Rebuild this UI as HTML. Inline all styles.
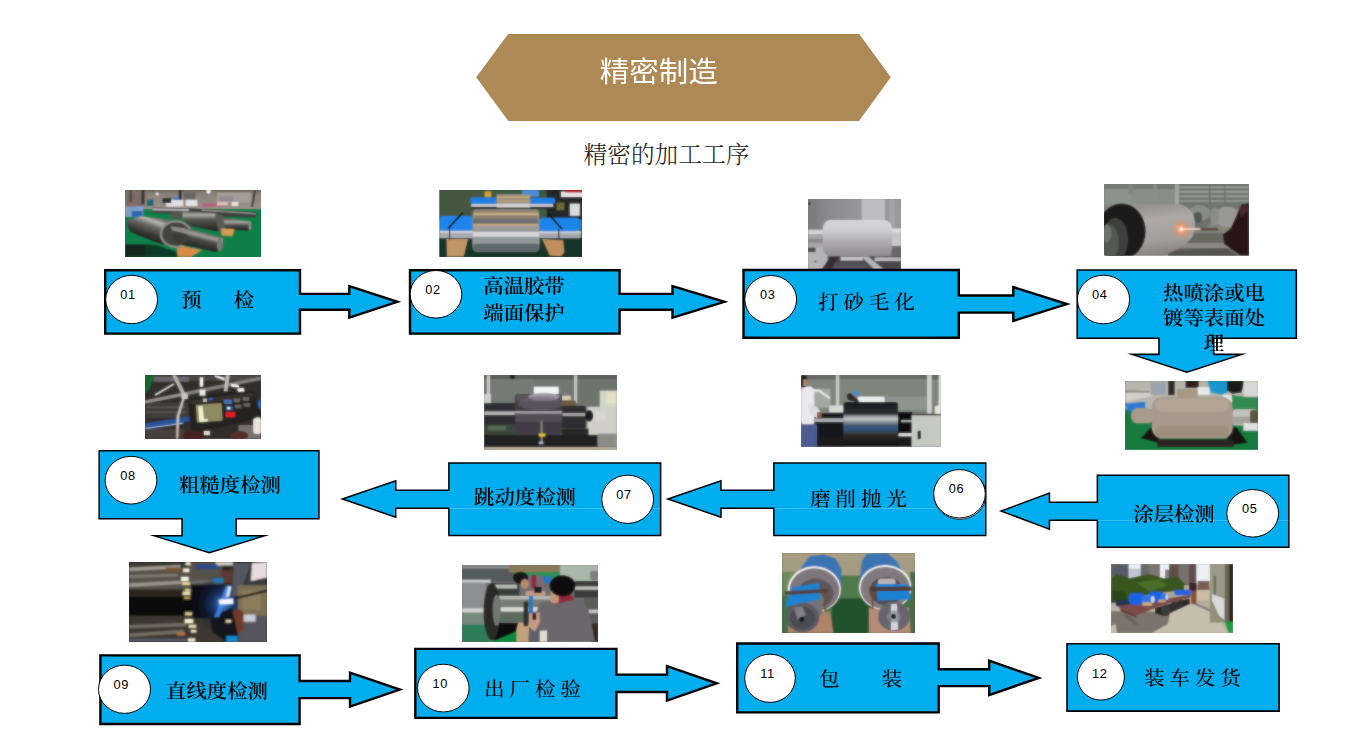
<!DOCTYPE html>
<html lang="zh-CN">
<head>
<meta charset="utf-8">
<title>精密制造 - 精密的加工工序</title>
<style>
*{margin:0;padding:0;box-sizing:border-box}
html,body{width:1356px;height:752px;background:#fff;overflow:hidden}
body{font-family:"Liberation Sans","Noto Sans CJK SC",sans-serif;color:#000}
#page{position:relative;width:1356px;height:752px;background:#fff;overflow:hidden}
.hex{position:absolute;left:476.2px;top:33.5px;width:414.6px;height:87.7px;background:#AD8956;
 clip-path:polygon(0 50%,7.8% 0,92.3% 0,100% 50%,92.3% 100%,7.8% 100%)}
h1{position:absolute;height:42px;line-height:42px;font-size:29.5px;font-weight:400;transform:scaleY(.945);transform-origin:50% 50%;
 color:#fff;white-space:nowrap;font-family:"Liberation Sans","Noto Sans CJK SC",sans-serif}
h2{position:absolute;height:30px;line-height:30px;font-size:23.7px;font-weight:300;
 color:#1c1c1c;white-space:nowrap;font-family:"Liberation Serif","Noto Serif CJK SC",serif}
#flow{position:absolute;left:0;top:0;width:1356px;height:752px}
.lb{position:absolute;white-space:nowrap;font-family:"Liberation Serif","Noto Serif CJK SC",serif;font-weight:600;
 font-size:20px;line-height:24px;color:#000;transform:scale(1.018,.955);transform-origin:50% 50%}
.no{position:absolute;white-space:nowrap;font-family:"Liberation Sans","Noto Sans CJK SC",sans-serif;
 font-size:12.8px;line-height:16px;letter-spacing:.6px;color:#000}
.g{display:inline-block}
</style>
</head>
<body>
<div id="page">
<div class="hex"></div>
<h1 id="T1" style="left:599.75px;top:51.75px">精密制造</h1>
<h2 id="T2" style="left:583.5px;top:139.75px">精密的加工工序</h2>
<svg id="flow" width="1356" height="752" viewBox="0 0 1356 752">
<defs>
<filter id="b1" x="-5%" y="-5%" width="110%" height="110%"><feGaussianBlur stdDeviation="10"/></filter>
<filter id="b2" x="-5%" y="-5%" width="110%" height="110%"><feGaussianBlur stdDeviation="10"/></filter>
<filter id="b3" x="-5%" y="-5%" width="110%" height="110%"><feGaussianBlur stdDeviation="10"/></filter>
<filter id="b4" x="-5%" y="-5%" width="110%" height="110%"><feGaussianBlur stdDeviation="10"/></filter>
<filter id="b5" x="-5%" y="-5%" width="110%" height="110%"><feGaussianBlur stdDeviation="10"/></filter>
<filter id="b6" x="-5%" y="-5%" width="110%" height="110%"><feGaussianBlur stdDeviation="10"/></filter>
<filter id="b7" x="-5%" y="-5%" width="110%" height="110%"><feGaussianBlur stdDeviation="10"/></filter>
<filter id="b8" x="-5%" y="-5%" width="110%" height="110%"><feGaussianBlur stdDeviation="10"/></filter>
<filter id="b9" x="-5%" y="-5%" width="110%" height="110%"><feGaussianBlur stdDeviation="10"/></filter>
<filter id="b10" x="-5%" y="-5%" width="110%" height="110%"><feGaussianBlur stdDeviation="10"/></filter>
<filter id="b11" x="-5%" y="-5%" width="110%" height="110%"><feGaussianBlur stdDeviation="10"/></filter>
<filter id="b12" x="-5%" y="-5%" width="110%" height="110%"><feGaussianBlur stdDeviation="10"/></filter>
</defs>
<svg x="125" y="190" width="136" height="67" viewBox="47 37 1261 620" preserveAspectRatio="none" overflow="hidden"><g id="ph1"><defs><linearGradient id="p1a" x1="0" y1="0" x2="0" y2="1"><stop offset="0" stop-color="#55514e"/><stop offset=".35" stop-color="#8a817a"/><stop offset="1" stop-color="#9b928b"/></linearGradient><linearGradient id="p1b" gradientUnits="userSpaceOnUse" x1="330" y1="290" x2="250" y2="520"><stop offset="0" stop-color="#6c6c65"/><stop offset=".16" stop-color="#b9b9b3"/><stop offset=".36" stop-color="#6a6a64"/><stop offset=".7" stop-color="#33332f"/><stop offset="1" stop-color="#1c1c1a"/></linearGradient><linearGradient id="p1c" gradientUnits="userSpaceOnUse" x1="780" y1="430" x2="740" y2="590"><stop offset="0" stop-color="#5f5f59"/><stop offset=".2" stop-color="#a2a29c"/><stop offset=".45" stop-color="#4a4a45"/><stop offset="1" stop-color="#1e1e1c"/></linearGradient><linearGradient id="p1d" gradientUnits="userSpaceOnUse" x1="0" y1="235" x2="0" y2="415"><stop offset="0" stop-color="#63635e"/><stop offset=".18" stop-color="#adada8"/><stop offset=".42" stop-color="#55554f"/><stop offset="1" stop-color="#222220"/></linearGradient><linearGradient id="p1e" gradientUnits="userSpaceOnUse" x1="0" y1="300" x2="0" y2="410"><stop offset="0" stop-color="#55554f"/><stop offset=".3" stop-color="#a9a9a3"/><stop offset=".6" stop-color="#4a4a46"/><stop offset="1" stop-color="#222"/></linearGradient></defs><rect x="0" y="0" width="1400" height="700" fill="#0c8047"/><rect x="0" y="0" width="1400" height="212" fill="url(#p1a)"/><rect x="47" y="60" width="190" height="130" fill="#7b6a65"/><rect x="900" y="60" width="320" height="95" fill="#a59c95"/><rect x="920" y="95" width="130" height="45" fill="#8f8d92"/><rect x="590" y="60" width="110" height="65" fill="#6b6364"/><rect x="200" y="37" width="26" height="130" fill="#34322f"/><rect x="545" y="37" width="26" height="95" fill="#2b2b2b"/><rect x="90" y="37" width="20" height="110" fill="#4a4441"/><polygon points="1240,40 1262,40 1235,195 1215,195" fill="#454340"/><rect x="428" y="128" width="160" height="62" fill="#dfe0e2"/><rect x="610" y="128" width="108" height="58" fill="#e3e4e6"/><rect x="395" y="112" width="80" height="45" fill="#2a2a2a"/><rect x="250" y="125" width="60" height="60" fill="#1e667a"/><rect x="500" y="103" width="48" height="26" fill="#3d79c8"/><rect x="1035" y="148" width="62" height="36" fill="#ece4d8"/><rect x="760" y="160" width="230" height="32" fill="#b7637c"/><rect x="900" y="150" width="100" height="30" fill="#d9c8c0"/><circle cx="822" cy="52" r="20" fill="#fbfbfb"/><circle cx="345" cy="74" r="16" fill="#dedede"/><rect x="47" y="185" width="170" height="100" fill="#7f9fca"/><rect x="110" y="232" width="100" height="52" fill="#2b69b2"/><rect x="47" y="150" width="110" height="40" fill="#8a6a60"/><polygon points="300,200 640,205 1000,225 1265,245 1265,292 1000,285 300,248" fill="#3f3f3d"/><polygon points="300,207 640,212 640,232 300,226" fill="#b9b9b9"/><polygon points="760,215 1000,228 1260,250 1260,264 1000,246 760,232" fill="#8c8c88"/><polygon points="470,245 585,235 585,305 470,300" fill="url(#p1e)"/><polygon points="580,232 880,250 900,262 915,420 860,415 640,368 580,310" fill="url(#p1d)"/><polygon points="880,255 960,270 975,410 915,425" fill="#5b5b56"/><polygon points="960,292 1215,330 1220,405 1180,415 975,400" fill="url(#p1e)"/><ellipse cx="1205" cy="372" rx="14" ry="38" fill="#8a8a84"/><polygon points="47,545 235,540 330,545 520,605 535,657 47,657" fill="#0f3a27"/><polygon points="47,540 225,540 235,657 47,657" fill="#17261f"/><polygon points="938,392 1062,398 1042,462 945,458" fill="#d99a4e"/><polygon points="528,545 760,592 655,657 535,655" fill="#d58d48"/><polygon points="60,322 200,280 520,322 470,560 330,520 100,428 70,380" fill="url(#p1b)"/><ellipse cx="520" cy="445" rx="140" ry="118" fill="#44443f"/><ellipse cx="520" cy="445" rx="140" ry="118" fill="none" stroke="#8b8b83" stroke-width="22"/><polygon points="540,385 650,395 955,482 955,560 890,612 700,566 540,540" fill="url(#p1c)"/><ellipse cx="560" cy="462" rx="70" ry="82" fill="#3d3d39"/><polygon points="470,372 600,392 640,420 640,450 480,410" fill="#8a8a84"/><ellipse cx="925" cy="542" rx="26" ry="58" fill="#7c7c74"/></g><use href="#ph1" filter="url(#b1)" opacity="0.6"/></svg>
<svg x="439.6" y="190" width="142.4" height="66.8" viewBox="33 37 1287 603" preserveAspectRatio="none" overflow="hidden"><g id="ph2"><rect x="0" y="0" width="1400" height="700" fill="#3f5a45"/><rect x="0" y="0" width="450" height="300" fill="#465842"/><rect x="1000" y="0" width="400" height="300" fill="#26282a"/><rect x="1130" y="50" width="200" height="50" fill="#e6e6e6"/><rect x="1210" y="160" width="90" height="110" fill="#d8dde0"/><rect x="1090" y="150" width="70" height="70" fill="#6a6a30"/><rect x="1170" y="37" width="150" height="22" fill="#c01818"/><rect x="780" y="37" width="150" height="60" fill="#4d8fd8"/><rect x="440" y="50" width="60" height="50" fill="#d0a030"/><rect x="0" y="470" width="1400" height="200" fill="#17362a"/><rect x="320" y="160" width="740" height="36" fill="#c3c5cc"/><rect x="320" y="190" width="740" height="16" fill="#1c1c1c"/><rect x="312" y="105" width="236" height="58" rx="20" fill="#1f7fe6"/><rect x="850" y="108" width="228" height="52" rx="20" fill="#1f7fe6"/><rect x="548" y="75" width="304" height="125" fill="#9a9282"/><rect x="548" y="95" width="304" height="14" fill="#c8a878"/><rect x="548" y="130" width="304" height="14" fill="#c0a070"/><rect x="548" y="160" width="304" height="30" fill="#d0d2d6"/><rect x="33" y="400" width="300" height="72" fill="#a9abb2"/><rect x="33" y="405" width="300" height="20" fill="#d2d4da"/><rect x="930" y="405" width="380" height="68" rx="20" fill="#a4a6ac"/><rect x="930" y="408" width="380" height="20" fill="#cfd1d8"/><rect x="33" y="272" width="300" height="132" rx="30" fill="#1f86ea"/><rect x="925" y="288" width="388" height="122" rx="50" fill="#1f86ea"/><polygon points="95,480 290,480 250,640 100,640" fill="#c09468"/><polygon points="960,480 1150,490 1160,600 1130,636 1030,630" fill="#c08e5e"/><rect x="330" y="210" width="605" height="385" rx="40" fill="#8b9092"/><rect x="345" y="215" width="575" height="30" fill="#8f8674"/><rect x="345" y="245" width="575" height="22" fill="#cdb084"/><rect x="345" y="267" width="575" height="30" fill="#8a7d68"/><rect x="335" y="297" width="590" height="45" fill="#6f7070"/><rect x="335" y="342" width="590" height="20" fill="#c2a57a"/><rect x="335" y="362" width="595" height="52" fill="#9a9a9a"/><rect x="330" y="414" width="605" height="46" fill="#d4d6da"/><rect x="330" y="460" width="605" height="62" fill="#959a9d"/><rect x="335" y="522" width="595" height="70" rx="30" fill="#5e686a"/><polygon points="235,238 250,245 120,385 105,378" fill="#151515"/><polygon points="1010,255 1025,250 1148,388 1132,392" fill="#151515"/><rect x="118" y="380" width="10" height="110" fill="#303030"/><rect x="1105" y="390" width="10" height="100" fill="#303030"/></g><use href="#ph2" filter="url(#b2)" opacity="0.6"/></svg>
<svg x="808.1" y="199" width="92.8" height="70.5" viewBox="76 47 872 663" preserveAspectRatio="none" overflow="hidden"><g id="ph3"><defs><linearGradient id="p3a" x1="0" y1="0" x2="0" y2="1"><stop offset="0" stop-color="#d6d6da"/><stop offset=".3" stop-color="#cdcdd1"/><stop offset=".55" stop-color="#b3b1b6"/><stop offset=".8" stop-color="#9e9ba1"/><stop offset="1" stop-color="#8e8b91"/></linearGradient><linearGradient id="p3b" x1="0" y1="0" x2="1" y2="0"><stop offset="0" stop-color="#7d7d81"/><stop offset=".5" stop-color="#8e8e92"/><stop offset="1" stop-color="#97979b"/></linearGradient></defs><rect x="0" y="0" width="1000" height="760" fill="#858589"/><rect x="76" y="47" width="500" height="290" fill="url(#p3b)"/><rect x="76" y="47" width="80" height="280" fill="#7d7d81"/><rect x="575" y="47" width="225" height="215" fill="#bdbdc0"/><rect x="565" y="47" width="14" height="215" fill="#9a9a9d"/><rect x="800" y="47" width="150" height="280" fill="#99999c"/><rect x="840" y="47" width="50" height="270" fill="#a6a6a9"/><circle cx="88" cy="92" r="12" fill="#2a2a2c"/><rect x="76" y="330" width="150" height="175" fill="#a9a7a6"/><rect x="76" y="342" width="150" height="34" fill="#d6d6d6"/><rect x="76" y="420" width="150" height="40" fill="#8f8d8c"/><rect x="76" y="500" width="220" height="210" fill="#b5b5b8"/><rect x="76" y="505" width="70" height="40" fill="#4a4646"/><circle cx="145" cy="635" r="10" fill="#5a5a5c"/><rect x="860" y="320" width="90" height="170" fill="#c7c7c9"/><rect x="860" y="330" width="90" height="30" fill="#dedee0"/><rect x="860" y="490" width="90" height="100" fill="#6a686a"/><rect x="260" y="585" width="690" height="125" fill="#4a4648"/><rect x="380" y="590" width="210" height="36" fill="#c5c5c7"/><rect x="700" y="595" width="250" height="36" fill="#b7b7b9"/><polygon points="570,585 640,585 790,710 700,710" fill="#b2b2b4"/><polygon points="290,585 370,585 290,710 200,710" fill="#3a2e30"/><rect x="320" y="650" width="300" height="60" fill="#55525a"/><rect x="215" y="245" width="650" height="340" rx="75" fill="url(#p3a)"/></g><use href="#ph3" filter="url(#b3)" opacity="0.6"/></svg>
<svg x="1104.1" y="184.1" width="144.8" height="71.5" viewBox="36 36 1275 630" preserveAspectRatio="none" overflow="hidden"><g id="ph4"><defs><linearGradient id="p4a" gradientUnits="userSpaceOnUse" x1="500" y1="210" x2="560" y2="666"><stop offset="0" stop-color="#96938f"/><stop offset=".3" stop-color="#aeaaa6"/><stop offset=".7" stop-color="#a39f9a"/><stop offset="1" stop-color="#85817d"/></linearGradient><radialGradient id="p4b" gradientUnits="userSpaceOnUse" cx="715" cy="432" r="95"><stop offset="0" stop-color="#fff6ec"/><stop offset=".18" stop-color="#ffb487"/><stop offset=".5" stop-color="#ee9066" stop-opacity=".65"/><stop offset="1" stop-color="#c8988a" stop-opacity="0"/></radialGradient></defs><rect x="0" y="0" width="1400" height="700" fill="#80837e"/><rect x="36" y="36" width="660" height="200" fill="#898d88"/><rect x="36" y="36" width="660" height="44" fill="#777b75"/><rect x="36" y="80" width="230" height="130" fill="#8f938e"/><rect x="250" y="36" width="40" height="90" fill="#80847f"/><rect x="470" y="36" width="30" height="160" fill="#8c908b"/><rect x="690" y="36" width="625" height="220" fill="#727672"/><rect x="700" y="56" width="610" height="16" fill="#9b9f9a"/><rect x="700" y="96" width="610" height="16" fill="#a0a49f"/><rect x="700" y="136" width="610" height="16" fill="#9a9e99"/><rect x="700" y="176" width="610" height="16" fill="#939792"/><rect x="960" y="36" width="12" height="200" fill="#6b6f6b"/><rect x="1095" y="36" width="10" height="180" fill="#6b6f6b"/><rect x="660" y="36" width="36" height="180" fill="#a2a6a1"/><rect x="600" y="470" width="720" height="200" fill="#686962"/><rect x="700" y="555" width="500" height="45" fill="#8a8b82"/><polygon points="600,620 1100,600 1200,666 600,666" fill="#55564f"/><ellipse cx="880" cy="318" rx="112" ry="112" fill="#6e726b"/><ellipse cx="875" cy="290" rx="95" ry="70" fill="#8a8d86"/><ellipse cx="860" cy="330" rx="40" ry="50" fill="#4a5a58"/><ellipse cx="1120" cy="325" rx="115" ry="90" fill="#9a9a95"/><ellipse cx="1010" cy="320" rx="40" ry="80" fill="#8d8d88"/><path d="M190,212 L700,212 Q800,232 830,330 Q848,420 812,500 Q760,585 560,666 L300,666 Z" fill="url(#p4a)"/><ellipse cx="190" cy="452" rx="212" ry="246" fill="#1c1b1a"/><ellipse cx="135" cy="525" rx="110" ry="190" fill="#3e433e"/><ellipse cx="90" cy="550" rx="75" ry="150" fill="#555953"/><ellipse cx="60" cy="470" rx="40" ry="80" fill="#70736c"/><rect x="880" y="422" width="270" height="24" fill="#5b5148"/><rect x="1040" y="416" width="100" height="30" rx="8" fill="#8a8478"/><polygon points="1245,215 1311,205 1311,666 1240,666 1095,565 1082,480 1150,430" fill="#2a1315"/><polygon points="1230,240 1290,215 1311,260 1240,330" fill="#4a2a2c"/><circle cx="715" cy="432" r="95" fill="url(#p4b)"/><rect x="715" y="425" width="172" height="14" rx="7" fill="#ffd9bd"/><circle cx="715" cy="432" r="14" fill="#fffaf2"/></g><use href="#ph4" filter="url(#b4)" opacity="0.6"/></svg>
<svg x="1125.1" y="381" width="132.8" height="68.8" viewBox="65 64 1218 631" preserveAspectRatio="none" overflow="hidden"><g id="ph5"><rect x="0" y="0" width="1400" height="760" fill="#177c40"/><rect x="65" y="64" width="1220" height="150" fill="#b5b3ac"/><rect x="65" y="64" width="340" height="260" fill="#b8b4ae"/><polygon points="65,160 300,135 320,200 65,260" fill="#d0cfc8"/><rect x="65" y="150" width="230" height="20" fill="#8f8f80"/><rect x="300" y="80" width="140" height="110" fill="#9aa4ae"/><rect x="460" y="64" width="60" height="130" fill="#2d2a2a"/><rect x="620" y="64" width="120" height="62" fill="#291c1c"/><rect x="730" y="120" width="110" height="70" fill="#e8e8ea"/><polygon points="820,64 1000,64 1000,170 950,190 850,170" fill="#1a97cf"/><polygon points="1000,64 1165,64 1130,170 1050,180 1000,150" fill="#1b1c1c"/><rect x="1150" y="64" width="135" height="140" fill="#d8d8d4"/><polygon points="960,190 1090,190 1040,270 980,260" fill="#e4e4e0"/><polygon points="1040,190 1283,230 1283,350 1060,330" fill="#348a52"/><polygon points="65,270 250,255 250,335 90,345" fill="#2b7bd0"/><rect x="120" y="312" width="210" height="140" rx="60" fill="#a59c8c"/><rect x="1040" y="322" width="245" height="150" rx="40" fill="#c2c2ba"/><rect x="1040" y="390" width="200" height="70" fill="#a4a49c"/><rect x="1210" y="330" width="75" height="130" rx="30" fill="#5b5740"/><rect x="1150" y="450" width="135" height="70" fill="#e0e0e0"/><polygon points="300,490 210,590 400,640 980,660 1190,630 1080,480 1040,500 1000,600 380,600 340,500" fill="#181310"/><rect x="360" y="600" width="700" height="70" fill="#2a2520"/><rect x="540" y="135" width="190" height="80" rx="14" fill="#a99a82"/><rect x="310" y="210" width="742" height="380" rx="100" fill="#a99a8c"/><rect x="340" y="225" width="680" height="120" rx="70" fill="#b3a597"/><rect x="340" y="470" width="680" height="110" rx="70" fill="#9d8e80"/></g><use href="#ph5" filter="url(#b5)" opacity="0.6"/></svg>
<svg x="801" y="375.1" width="139.9" height="71.6" viewBox="45 46 1265 647" preserveAspectRatio="none" overflow="hidden"><g id="ph6"><rect x="0" y="0" width="1400" height="760" fill="#7f847f"/><rect x="45" y="46" width="1270" height="40" fill="#666b66"/><rect x="400" y="80" width="780" height="160" fill="#7f847e"/><rect x="800" y="240" width="390" height="120" fill="#8f958f"/><rect x="360" y="46" width="32" height="290" fill="#c3c7c3"/><rect x="1185" y="46" width="42" height="350" fill="#cdd1cd"/><rect x="1290" y="46" width="25" height="300" fill="#e4e6e4"/><rect x="130" y="170" width="180" height="170" fill="#a2a7a3"/><polygon points="130,170 215,175 310,245 300,265 210,200 130,195" fill="#dfe2e0"/><rect x="560" y="240" width="240" height="52" fill="#eceeee"/><rect x="300" y="320" width="130" height="60" fill="#d8dad8"/><rect x="520" y="195" width="55" height="30" fill="#3f8fc8"/><polygon points="455,225 490,205 575,285 545,290 470,270" fill="#2a2d30"/><rect x="170" y="390" width="265" height="300" fill="#17191b"/><rect x="170" y="436" width="260" height="34" fill="#a9adb2"/><rect x="920" y="380" width="130" height="195" fill="#0b0c0d"/><rect x="950" y="452" width="100" height="20" fill="#a7a9ac"/><rect x="930" y="570" width="120" height="123" fill="#d8dad8"/><rect x="190" y="600" width="860" height="93" fill="#1a1a1a"/><rect x="1045" y="405" width="270" height="290" fill="#c6c8c2"/><rect x="1050" y="395" width="260" height="14" fill="#2e2e2e"/><rect x="1100" y="550" width="28" height="75" rx="10" fill="#1e1e1e"/><polygon points="1255,330 1310,310 1310,400 1255,395" fill="#e6e4da"/><defs><linearGradient id="p6a" x1="0" y1="0" x2="0" y2="1"><stop offset="0" stop-color="#191b1d"/><stop offset=".27" stop-color="#2b2e30"/><stop offset=".33" stop-color="#8e9296"/><stop offset=".4" stop-color="#c3c7cb"/><stop offset=".47" stop-color="#85898d"/><stop offset=".56" stop-color="#3a5570"/><stop offset=".64" stop-color="#2c5682"/><stop offset=".71" stop-color="#3c3c3e"/><stop offset=".8" stop-color="#2a2624"/><stop offset="1" stop-color="#131313"/></linearGradient></defs><rect x="428" y="288" width="495" height="392" rx="30" fill="url(#p6a)"/><rect x="45" y="150" width="120" height="350" rx="40" fill="#e9e9ee"/><polygon points="110,300 200,340 230,400 200,440 130,400" fill="#dcdce2"/><rect x="190" y="380" width="45" height="60" rx="15" fill="#8a5a48"/><rect x="45" y="46" width="52" height="110" rx="20" fill="#1f1b1b"/><rect x="65" y="85" width="32" height="60" fill="#b88a70"/><rect x="45" y="490" width="145" height="205" fill="#4b5b90"/></g><use href="#ph6" filter="url(#b6)" opacity="0.6"/></svg>
<svg x="484.1" y="375.1" width="132.8" height="74.7" viewBox="55 46 1188 668" preserveAspectRatio="none" overflow="hidden"><g id="ph7"><rect x="0" y="0" width="1300" height="760" fill="#747874"/><rect x="55" y="46" width="1190" height="40" fill="#5d615d"/><rect x="120" y="80" width="380" height="200" fill="#757a76"/><rect x="880" y="80" width="365" height="240" fill="#6f746f"/><rect x="78" y="46" width="30" height="250" fill="#c5c7c5"/><rect x="860" y="46" width="28" height="250" fill="#c2c4c2"/><circle cx="308" cy="60" r="22" fill="#1f1f1f"/><rect x="500" y="150" width="222" height="78" fill="#f4f6f6"/><rect x="1090" y="185" width="155" height="150" fill="#cfd8c4"/><rect x="1150" y="190" width="90" height="110" fill="#e6e0c4"/><rect x="740" y="230" width="90" height="40" fill="#d8ccb4"/><rect x="745" y="275" width="130" height="50" fill="#6a5a3a"/><rect x="55" y="215" width="60" height="90" fill="#d0d2d0"/><rect x="980" y="330" width="265" height="350" fill="#cfcfc9"/><rect x="1040" y="370" width="100" height="80" fill="#d6d6d0"/><rect x="1070" y="570" width="170" height="110" fill="#8c8c88"/><rect x="55" y="480" width="290" height="110" fill="#3e463e"/><rect x="90" y="500" width="160" height="40" fill="#5a6a54"/><rect x="55" y="580" width="1015" height="115" fill="#222223"/><rect x="55" y="690" width="1190" height="26" fill="#b8b09a"/><rect x="55" y="295" width="280" height="190" fill="#2f2f33"/><rect x="55" y="370" width="275" height="32" fill="#b5b3b3"/><rect x="750" y="320" width="215" height="205" rx="20" fill="#2e2e32"/><rect x="755" y="385" width="210" height="28" fill="#a3a1a3"/><ellipse cx="995" cy="410" rx="36" ry="52" fill="#1c1c1e"/><rect x="750" y="525" width="240" height="60" fill="#2a2a2a"/><rect x="330" y="215" width="422" height="368" rx="30" fill="#433e48"/><rect x="340" y="220" width="400" height="60" rx="20" fill="#59545d"/><ellipse cx="590" cy="240" rx="140" ry="36" fill="#aaa6b1" opacity=".8"/><ellipse cx="560" cy="300" rx="200" ry="60" fill="#6a6470" opacity=".55"/><rect x="330" y="368" width="422" height="24" fill="#a59fa6"/><rect x="335" y="392" width="415" height="70" fill="#534e58"/><rect x="560" y="455" width="18" height="190" fill="#8a8674"/><rect x="545" y="568" width="58" height="28" fill="#e2c21e"/><rect x="545" y="640" width="40" height="24" fill="#a9b4d8"/></g><use href="#ph7" filter="url(#b7)" opacity="0.6"/></svg>
<svg x="145.1" y="374.9" width="115.8" height="63.8" viewBox="52 50 1176 648" preserveAspectRatio="none" overflow="hidden"><g id="ph8"><rect x="0" y="0" width="1300" height="760" fill="#302d2b"/><rect x="52" y="50" width="1180" height="60" fill="#4a4846"/><rect x="140" y="70" width="360" height="50" fill="#66666b"/><polygon points="52,50 150,50 90,200 52,240" fill="#176a2f"/><rect x="52" y="330" width="440" height="160" fill="#403c3a"/><rect x="60" y="370" width="400" height="16" fill="#5b5856"/><rect x="60" y="420" width="400" height="16" fill="#5b5856"/><rect x="52" y="600" width="400" height="100" fill="#46423f"/><polygon points="52,308 1228,66 1228,102 52,342" fill="#827e7a"/><polygon points="52,314 470,230 470,254 52,338" fill="#94908c"/><polygon points="325,50 365,50 468,250 432,268" fill="#b3afab"/><polygon points="872,50 912,50 888,215 852,215" fill="#bdb9b5"/><polygon points="145,250 340,135 348,150 160,262" fill="#d0d0d0"/><rect x="608" y="75" width="34" height="95" fill="#f2f2f2"/><rect x="605" y="200" width="60" height="60" fill="#ecece6"/><polygon points="760,50 860,80 860,110 760,70" fill="#e8e8e8"/><polygon points="920,140 1000,150 1010,180 930,170" fill="#f0f0f0"/><polygon points="985,190 1050,180 1065,220 1000,232" fill="#f4f4f4"/><polygon points="52,540 500,472 505,522 52,598" fill="#2a539c"/><polygon points="52,590 440,534 440,545 52,602" fill="#9fb6dc"/><rect x="1000" y="560" width="230" height="140" fill="#76726e"/><rect x="1150" y="480" width="80" height="170" rx="30" fill="#ece4dc"/><rect x="1200" y="310" width="30" height="80" fill="#2b67c8"/><polygon points="490,300 860,225 1150,215 1228,455 1150,500 560,640 520,600" fill="#252321"/><polygon points="500,310 1140,230 1160,270 520,350" fill="#35322f"/><rect x="572" y="345" width="262" height="180" rx="10" fill="#8f8a62" transform="rotate(-4 700 430)"/><polygon points="590,372 635,366 650,500 690,500 690,522 605,528" fill="#f3f3d3"/><rect x="850" y="300" width="85" height="46" rx="8" fill="#4a6db2"/><rect x="868" y="368" width="80" height="42" rx="8" fill="#27508f"/><rect x="885" y="375" width="32" height="26" fill="#e8eef8"/><rect x="868" y="428" width="98" height="52" rx="10" fill="#e21f25"/><rect x="950" y="290" width="70" height="38" rx="8" fill="#6a6660"/><rect x="1040" y="275" width="70" height="38" rx="8" fill="#6a6660"/><rect x="960" y="350" width="70" height="38" rx="8" fill="#64605a"/><rect x="1050" y="335" width="70" height="38" rx="8" fill="#64605a"/><rect x="640" y="290" width="40" height="34" fill="#bdbdbd"/><rect x="695" y="282" width="45" height="26" fill="#2e5fb0"/><polygon points="430,290 455,285 400,470 388,698 368,698 372,470" fill="#c9c1b9"/><rect x="420" y="240" width="66" height="56" rx="16" fill="#cfc9c3"/><ellipse cx="540" cy="670" rx="110" ry="50" fill="#4a2023"/><ellipse cx="1010" cy="665" rx="90" ry="45" fill="#5a2d2d"/><rect x="650" y="620" width="60" height="40" fill="#e0dcd4"/></g><use href="#ph8" filter="url(#b8)" opacity="0.6"/></svg>
<svg x="129" y="562" width="137.9" height="79.8" viewBox="42 50 1152 668" preserveAspectRatio="none" overflow="hidden"><g id="ph9"><rect x="0" y="0" width="1300" height="780" fill="#2b2720"/><rect x="42" y="50" width="780" height="300" fill="#57534a"/><rect x="42" y="50" width="500" height="50" fill="#3b3a34"/><polygon points="42,96 470,76 470,104 42,126" fill="#a09c92"/><polygon points="42,158 450,148 450,172 42,184" fill="#7d796f"/><polygon points="42,228 480,206 480,234 42,260" fill="#9a968c"/><polygon points="560,210 800,190 800,210 560,232" fill="#6f7078"/><rect x="42" y="330" width="780" height="180" fill="#0b0907"/><rect x="42" y="280" width="450" height="60" fill="#2a251e"/><rect x="42" y="500" width="780" height="220" fill="#3d3931"/><polygon points="42,578 520,558 520,587 42,607" fill="#716c62"/><polygon points="42,648 500,618 500,647 42,677" fill="#757066"/><polygon points="42,690 520,690 520,718 42,718" fill="#565a66"/><rect x="350" y="95" width="110" height="36" fill="#7a5230"/><defs><radialGradient id="p9a" gradientUnits="userSpaceOnUse" cx="830" cy="400" r="260"><stop offset="0" stop-color="#4d8fe8"/><stop offset=".35" stop-color="#1f3f7a" stop-opacity=".8"/><stop offset="1" stop-color="#0a0f1e" stop-opacity="0"/></radialGradient></defs><rect x="560" y="240" width="260" height="280" fill="#0b0d14"/><circle cx="830" cy="400" r="260" fill="url(#p9a)"/><rect x="600" y="70" width="200" height="40" fill="#2a4a8a"/><rect x="515" y="52" width="40" height="24" fill="#f6f0d0"/><rect x="495" y="105" width="50" height="28" fill="#f8f4e2"/><rect x="478" y="175" width="62" height="34" fill="#fbf7e6"/><rect x="485" y="218" width="66" height="24" fill="#ecd9a0"/><rect x="510" y="275" width="45" height="22" fill="#e2c98a"/><rect x="490" y="300" width="62" height="26" fill="#efe0ac"/><rect x="500" y="338" width="55" height="22" fill="#b59a5c"/><rect x="510" y="470" width="58" height="28" fill="#d9c48a"/><rect x="508" y="528" width="70" height="34" fill="#f6f0d4"/><rect x="540" y="575" width="62" height="26" fill="#e9dcb0"/><rect x="560" y="618" width="44" height="22" fill="#f0e6c0"/><rect x="535" y="690" width="60" height="28" fill="#f4f0e0"/><rect x="440" y="640" width="70" height="26" fill="#b0703a"/><rect x="900" y="50" width="300" height="200" fill="#3a3a40"/><polygon points="760,50 910,50 910,80 780,80" fill="#cfc9c3"/><polygon points="920,60 1060,60 960,330 900,340" fill="#555860"/><polygon points="1070,60 1194,50 1194,180 1060,210" fill="#e9dcdc"/><rect x="950" y="245" width="250" height="260" fill="#7d7156"/><rect x="990" y="290" width="150" height="160" fill="#8d7f5c"/><polygon points="930,345 1194,280 1194,300 930,362" fill="#17171a"/><rect x="810" y="120" width="100" height="110" fill="#5a3a30"/><rect x="750" y="185" width="80" height="40" fill="#1a7ab8"/><rect x="880" y="500" width="320" height="220" fill="#55555b"/><rect x="905" y="450" width="95" height="190" rx="40" fill="#6f3a2a"/><rect x="1000" y="490" width="100" height="60" fill="#c8ccd8"/><polygon points="720,520 900,430 960,700 860,718 740,640" fill="#16181e"/><polygon points="850,250 885,258 840,400 795,510 755,510 805,380" fill="#3f8df2" opacity=".85"/><polygon points="790,365 910,355 915,400 800,405" fill="#f4f8ff"/><polygon points="870,250 900,255 880,340 850,345" fill="#cfe2ff"/><rect x="855" y="670" width="95" height="48" fill="#168ad2"/><rect x="850" y="535" width="45" height="22" fill="#e9dcb0"/></g><use href="#ph9" filter="url(#b9)" opacity="0.8"/></svg>
<svg x="462" y="565" width="136" height="76.8" viewBox="50 42 1137 642" preserveAspectRatio="none" overflow="hidden"><g id="ph10"><rect x="0" y="0" width="1300" height="760" fill="#6c706e"/><rect x="50" y="42" width="460" height="140" fill="#565a5a"/><rect x="50" y="42" width="400" height="30" fill="#8a8c8c"/><rect x="50" y="165" width="240" height="26" fill="#c9cbcb"/><rect x="50" y="190" width="200" height="220" fill="#8a9090"/><rect x="50" y="405" width="200" height="36" fill="#d3d5d5"/><rect x="50" y="440" width="210" height="110" fill="#76897f"/><rect x="50" y="540" width="230" height="150" fill="#2f7d58"/><rect x="440" y="42" width="440" height="62" fill="#8b7a58"/><rect x="500" y="100" width="400" height="60" fill="#2e9058"/><rect x="870" y="42" width="320" height="140" fill="#a9b8aa"/><rect x="1120" y="90" width="70" height="80" rx="30" fill="#7d7f7d"/><rect x="990" y="175" width="200" height="140" fill="#3b3b3a"/><rect x="990" y="220" width="200" height="30" fill="#b9b9b7"/><rect x="1070" y="315" width="120" height="210" fill="#5c5c5a"/><rect x="1080" y="415" width="110" height="30" fill="#c5c5c3"/><rect x="1130" y="530" width="60" height="155" fill="#3a2a20"/><rect x="300" y="195" width="230" height="105" fill="#3b3d3b"/><rect x="310" y="205" width="200" height="34" fill="#b5b7b5"/><rect x="300" y="590" width="220" height="100" fill="#0c8a42"/><rect x="505" y="520" width="270" height="166" fill="#c1a27a"/><polygon points="270,520 520,520 500,600 330,670 280,650" fill="#0b0b0b"/><rect x="340" y="300" width="460" height="225" fill="#787c76"/><rect x="350" y="300" width="450" height="30" fill="#b4b6b2"/><rect x="360" y="395" width="380" height="36" fill="#d7d9d5"/><rect x="350" y="440" width="260" height="80" fill="#5b6a60"/><ellipse cx="300" cy="430" rx="70" ry="240" fill="#292927"/><ellipse cx="340" cy="420" rx="34" ry="130" fill="#75776f"/><rect x="565" y="345" width="40" height="210" rx="16" fill="#2f2f2d"/><rect x="610" y="190" width="34" height="260" fill="#2a79c4"/><rect x="720" y="140" width="80" height="55" fill="#2a73c8"/><polygon points="600,135 720,130 755,250 740,300 580,290" fill="#7b6c72"/><rect x="630" y="125" width="40" height="110" fill="#8e2a44"/><ellipse cx="540" cy="150" rx="64" ry="52" fill="#141212"/><ellipse cx="575" cy="200" rx="35" ry="40" fill="#b58a70"/><rect x="580" y="260" width="170" height="40" rx="18" fill="#c49a84"/><rect x="655" y="225" width="60" height="50" fill="#1a1a1a"/><polygon points="700,360 850,330 1060,340 1110,420 1160,680 610,684 640,520" fill="#6c686b"/><polygon points="610,560 760,590 720,684 605,684" fill="#5f5f68"/><rect x="700" y="590" width="60" height="94" fill="#e3dcd0"/><polygon points="610,450 700,440 700,520 660,600 610,560" fill="#c69c84"/><rect x="640" y="445" width="30" height="55" fill="#3a1414"/><polygon points="830,300 960,285 990,330 850,365" fill="#8e2a3c"/><rect x="790" y="250" width="70" height="110" rx="24" fill="#c3947a"/><ellipse cx="890" cy="215" rx="108" ry="88" fill="#0d0d0d"/></g><use href="#ph10" filter="url(#b10)" opacity="0.6"/></svg>
<svg x="782.1" y="553" width="132.9" height="79.9" viewBox="51 42 1110 667" preserveAspectRatio="none" overflow="hidden"><g id="ph11"><rect x="0" y="0" width="1300" height="760" fill="#44704a"/><rect x="51" y="42" width="1115" height="220" fill="#a39c82"/><rect x="51" y="42" width="1115" height="60" fill="#aa9f86"/><rect x="51" y="200" width="120" height="200" fill="#6d8a5c"/><rect x="540" y="230" width="180" height="200" fill="#4f7a4c"/><rect x="470" y="420" width="320" height="290" fill="#24512f"/><rect x="1120" y="200" width="45" height="510" fill="#4a6a44"/><polygon points="100,640 130,520 450,530 480,709 100,709" fill="#ad8468"/><polygon points="775,500 1110,500 1125,709 775,709" fill="#b58c78"/><polygon points="280,70 400,55 500,90 548,180 540,330 200,180" fill="#3b74b2"/><polygon points="760,50 930,45 1010,110 1060,200 1060,300 700,250 720,100" fill="#3b74b2"/><ellipse cx="320" cy="345" rx="222" ry="192" fill="#f0eef0"/><ellipse cx="322" cy="350" rx="208" ry="180" fill="#7d777b"/><ellipse cx="330" cy="380" rx="150" ry="125" fill="#5d565a"/><ellipse cx="912" cy="330" rx="220" ry="188" fill="#efedef"/><ellipse cx="912" cy="335" rx="206" ry="176" fill="#807a7e"/><ellipse cx="920" cy="360" rx="140" ry="118" fill="#514c4f"/><rect x="850" y="255" width="150" height="60" rx="30" fill="#b9b5b5"/><polygon points="320,300 400,420 380,560 300,600 250,470" fill="#77737a"/><polygon points="130,330 360,290 370,430 75,490" fill="#1c82d2"/><polygon points="830,300 1100,300 1130,430 850,440" fill="#1c82d2"/><polygon points="70,362 430,342 432,372 72,392" fill="#54423a"/><polygon points="780,325 1135,322 1135,358 782,362" fill="#4f3d32"/><rect x="405" y="370" width="14" height="160" fill="#7a4a30"/><rect x="800" y="360" width="14" height="150" fill="#7a4a30"/><ellipse cx="222" cy="582" rx="138" ry="122" fill="#5d5c64"/><ellipse cx="222" cy="585" rx="105" ry="95" fill="#4c4b52"/><polygon points="150,500 220,490 250,560 180,600" fill="#807e88"/><circle cx="215" cy="595" r="20" fill="#0f0f12"/><ellipse cx="985" cy="572" rx="132" ry="122" fill="#66656d"/><polygon points="960,470 1010,465 1020,680 960,690" fill="#d5d5dd"/><ellipse cx="985" cy="572" rx="60" ry="50" fill="#8a8a94" opacity=".7"/><circle cx="982" cy="572" r="20" fill="#141417"/></g><use href="#ph11" filter="url(#b11)" opacity="0.6"/></svg>
<svg x="1111" y="564" width="122" height="68.9" viewBox="66 56 1146 648" preserveAspectRatio="none" overflow="hidden"><g id="ph12"><rect x="0" y="0" width="1300" height="760" fill="#b1a898"/><rect x="66" y="56" width="940" height="200" fill="#eceff3"/><rect x="230" y="100" width="130" height="110" fill="#c3c9d4"/><rect x="66" y="56" width="165" height="150" fill="#565c66"/><rect x="345" y="56" width="180" height="170" fill="#68686a"/><rect x="420" y="56" width="105" height="150" fill="#7a7672"/><rect x="575" y="110" width="50" height="80" fill="#7d7a78"/><rect x="612" y="56" width="255" height="200" fill="#5d4d4b"/><rect x="700" y="56" width="100" height="190" fill="#76706e"/><rect x="880" y="215" width="110" height="90" fill="#7b5a56"/><rect x="870" y="300" width="140" height="100" fill="#c9bda5"/><polygon points="66,200 120,150 240,190 420,150 560,190 700,180 755,240 750,300 420,340 260,400 66,480" fill="#38561f"/><polygon points="300,230 520,200 600,260 420,310" fill="#4a6e28"/><polygon points="66,300 200,320 220,420 66,480" fill="#2c461b"/><rect x="66" y="420" width="1150" height="290" fill="#bbb2a2"/><polygon points="500,520 860,420 1080,530 1150,704 460,704" fill="#c6bdad"/><polygon points="66,500 400,500 620,520 600,620 450,704 66,704" fill="#7a746c"/><polygon points="66,640 110,620 120,704 66,704" fill="#c9c0b0"/><polygon points="860,420 1090,520 1080,545 850,440" fill="#86807a"/><rect x="995" y="56" width="220" height="550" fill="#8f8f7b"/><rect x="1000" y="56" width="150" height="300" fill="#9a9a86"/><rect x="1030" y="170" width="22" height="170" fill="#6a6a5c"/><polygon points="1015,340 1130,380 1130,580 1080,540 1015,400" fill="#d9d9d9"/><rect x="1138" y="56" width="78" height="550" fill="#2b211a"/><rect x="1138" y="56" width="40" height="540" fill="#6b6658"/><polygon points="1130,590 1212,600 1212,704 1170,704" fill="#1a9c42"/><rect x="110" y="395" width="150" height="60" rx="24" fill="#2a3350"/><polygon points="480,470 800,380 810,430 620,520 560,545 480,520" fill="#262626"/><ellipse cx="580" cy="490" rx="48" ry="55" fill="#3a3a3a"/><ellipse cx="660" cy="445" rx="36" ry="46" fill="#333333"/><ellipse cx="715" cy="425" rx="28" ry="38" fill="#2e2e2e"/><polygon points="140,450 600,380 810,345 815,372 560,440 300,540 150,480" fill="#7c4c4a"/><polygon points="150,478 300,540 310,560 160,500" fill="#5c3432"/><polygon points="180,520 240,540 320,620 300,630 200,560" fill="#6a625c"/><rect x="820" y="290" width="48" height="145" rx="12" fill="#8f4c32"/><rect x="800" y="235" width="70" height="70" fill="#3b2428"/><rect x="660" y="298" width="165" height="52" rx="22" fill="#2b62d8"/><rect x="420" y="315" width="140" height="100" rx="36" fill="#1b62e2"/><rect x="530" y="335" width="80" height="62" rx="26" fill="#2f74e8"/><ellipse cx="592" cy="366" rx="16" ry="28" fill="#c9cdd8"/><rect x="510" y="390" width="70" height="28" fill="#c9a070"/><rect x="232" y="328" width="150" height="112" rx="40" fill="#1b62e2"/><rect x="350" y="352" width="110" height="70" rx="28" fill="#2f74e8"/><ellipse cx="458" cy="390" rx="18" ry="32" fill="#d3d6de"/><rect x="360" y="415" width="90" height="34" fill="#cfa878"/></g><use href="#ph12" filter="url(#b12)" opacity="0.6"/></svg>
<polygon points="105.2,270.3 300,270.3 300,293.9 349.3,293.9 349.3,286.15 397.43,301.85 349.3,317.55 349.3,309.8 300,309.8 300,333.6 105.2,333.6" fill="#00AEEF" stroke="#000" stroke-width="2.4" stroke-linejoin="miter" stroke-miterlimit="10"/>
<polygon points="410,270.3 619.6,270.3 619.6,293.9 672.5,293.9 672.5,286.12 724.46,301.85 672.5,317.58 672.5,309.8 619.6,309.8 619.6,333.6 410,333.6" fill="#00AEEF" stroke="#000" stroke-width="2.4" stroke-linejoin="miter" stroke-miterlimit="10"/>
<polygon points="743.5,270 958.8,270 958.8,295.5 1013.3,295.5 1013.3,287.14 1066.91,304.05 1013.3,320.96 1013.3,312.6 958.8,312.6 958.8,337.8 743.5,337.8" fill="#00AEEF" stroke="#000" stroke-width="2.4" stroke-linejoin="miter" stroke-miterlimit="10"/>
<polygon points="1077.2,270 1296.3,270 1296.3,338.3 1213.7,338.3 1213.7,354.4 1241.74,354.4 1186.9,372.2 1132.06,354.4 1159,354.4 1159,338.3 1077.2,338.3" fill="#00AEEF" stroke="#000" stroke-width="1.6" stroke-linejoin="miter" stroke-miterlimit="10"/>
<polygon points="1288.85,475.25 1097.35,475.25 1097.35,502.15 1049.45,502.15 1049.45,493.08 1001.05,511.1 1049.45,529.12 1049.45,520.15 1097.35,520.15 1097.35,547.25 1288.85,547.25" fill="#00AEEF" stroke="#000" stroke-width="1.5" stroke-linejoin="miter" stroke-miterlimit="10"/>
<polygon points="985.75,463.05 773.85,463.05 773.85,490.15 720.95,490.15 720.95,480.85 667.82,499 720.95,517.15 720.95,508.35 773.85,508.35 773.85,535.55 985.75,535.55" fill="#00AEEF" stroke="#000" stroke-width="1.5" stroke-linejoin="miter" stroke-miterlimit="10"/>
<polygon points="660.65,463.05 448.85,463.05 448.85,490.15 395.75,490.15 395.75,480.85 342.33,499 395.75,517.15 395.75,508.35 448.85,508.35 448.85,535.55 660.65,535.55" fill="#00AEEF" stroke="#000" stroke-width="1.5" stroke-linejoin="miter" stroke-miterlimit="10"/>
<polygon points="99.15,450.75 318.95,450.75 318.95,518.85 236.15,518.85 236.15,535.85 264.4,535.85 209.3,552.76 154.2,535.85 182.05,535.85 182.05,518.85 99.15,518.85" fill="#00AEEF" stroke="#000" stroke-width="1.5" stroke-linejoin="miter" stroke-miterlimit="10"/>
<polygon points="100.4,655.4 299.6,655.4 299.6,681 350,681 350,672.58 399.78,689.55 350,706.52 350,698.1 299.6,698.1 299.6,724 100.4,724" fill="#00AEEF" stroke="#000" stroke-width="2.4" stroke-linejoin="miter" stroke-miterlimit="10"/>
<polygon points="415.3,648.9 616.4,648.9 616.4,674.6 667,674.6 667,666.08 716.83,683.3 667,700.52 667,692 616.4,692 616.4,717.9 415.3,717.9" fill="#00AEEF" stroke="#000" stroke-width="2.4" stroke-linejoin="miter" stroke-miterlimit="10"/>
<polygon points="737.2,643.5 938.7,643.5 938.7,669.2 989.2,669.2 989.2,660.69 1038.84,677.9 989.2,695.11 989.2,686.1 938.7,686.1 938.7,712.4 737.2,712.4" fill="#00AEEF" stroke="#000" stroke-width="2.4" stroke-linejoin="miter" stroke-miterlimit="10"/>
<polygon points="1067.05,643.75 1279.05,643.75 1279.05,711.15 1067.05,711.15" fill="#00AEEF" stroke="#000" stroke-width="1.7" stroke-linejoin="miter" stroke-miterlimit="10"/>
<line x1="1097.5" y1="520.5" x2="1288.8" y2="520.5" stroke="#fff" stroke-opacity=".28" stroke-width=".8"/>
<line x1="774" y1="508.5" x2="985.6" y2="508.5" stroke="#fff" stroke-opacity=".28" stroke-width=".8"/>
<line x1="449" y1="508.5" x2="660.6" y2="508.5" stroke="#fff" stroke-opacity=".28" stroke-width=".8"/>
<ellipse cx="959.9" cy="494.7" rx="26" ry="24.6" fill="#fff" stroke="#000" stroke-width=".8"/>
<ellipse cx="131.6" cy="299.5" rx="25.9" ry="24.2" fill="#fff" stroke="#000" stroke-width="1"/>
<ellipse cx="435.95" cy="294.3" rx="25.8" ry="23.8" fill="#fff" stroke="#000" stroke-width="1"/>
<ellipse cx="770.7" cy="299.5" rx="25.9" ry="24" fill="#fff" stroke="#000" stroke-width="1"/>
<ellipse cx="1103.5" cy="299.5" rx="26.1" ry="24.3" fill="#fff" stroke="#000" stroke-width="1"/>
<ellipse cx="1252.7" cy="513.3" rx="25.9" ry="23.8" fill="#fff" stroke="#000" stroke-width="1"/>
<ellipse cx="959.5" cy="493.8" rx="25.8" ry="24.2" fill="#fff" stroke="#000" stroke-width="1"/>
<ellipse cx="627.7" cy="499.3" rx="25.9" ry="24.1" fill="#fff" stroke="#000" stroke-width="1"/>
<ellipse cx="131" cy="480.2" rx="25.9" ry="23.9" fill="#fff" stroke="#000" stroke-width="1"/>
<ellipse cx="124.5" cy="689.25" rx="26" ry="24.1" fill="#fff" stroke="#000" stroke-width="1"/>
<ellipse cx="443.3" cy="688.1" rx="25.8" ry="23.9" fill="#fff" stroke="#000" stroke-width="1"/>
<ellipse cx="770" cy="678.3" rx="25.3" ry="24.1" fill="#fff" stroke="#000" stroke-width="1"/>
<ellipse cx="1100.9" cy="677.1" rx="23.5" ry="23" fill="#fff" stroke="#000" stroke-width="1"/>
</svg>
<div class="lb" id="L0" style="left:182px;top:287.65px;font-weight:600">预<span class="g" style="margin-left:31.4px"></span>检</div>
<div class="lb" id="L1" style="left:484.35px;top:273.3px;line-height:27.8px">高温胶带<br>端面保护</div>
<div class="lb" id="L2" style="left:818.9px;top:290.3px;font-weight:500">打 砂 毛 化</div>
<div class="lb" id="L3" style="left:1163.95px;top:279.8px;line-height:25.9px;text-align:center">热喷涂或电<br>镀等表面处<br>理</div>
<div class="lb" id="L4" style="left:1134.2px;top:501.7px">涂层检测</div>
<div class="lb" id="L5" style="left:811.1px;top:487.2px;font-weight:500">磨 削 抛 光</div>
<div class="lb" id="L6" style="left:474.8px;top:484.9px">跳动度检测</div>
<div class="lb" id="L7" style="left:179.6px;top:473.45px">粗糙度检测</div>
<div class="lb" id="L8" style="left:166.65px;top:678.95px">直线度检测</div>
<div class="lb" id="L9" style="left:484.7px;top:676.6px;font-weight:500">出 厂 检 验</div>
<div class="lb" id="L10" style="left:820.1px;top:666.9px;font-weight:500">包<span class="g" style="margin-left:41.5px"></span>装</div>
<div class="lb" id="L11" style="left:1145.2px;top:666.3px;font-weight:500">装 车 发 货</div>
<div class="no" id="N0" style="left:120.2px;top:287.2px">01</div>
<div class="no" id="N1" style="left:425.25px;top:281.6px">02</div>
<div class="no" id="N2" style="left:760px;top:287.15px">03</div>
<div class="no" id="N3" style="left:1091.95px;top:286.75px">04</div>
<div class="no" id="N4" style="left:1241.95px;top:501px">05</div>
<div class="no" id="N5" style="left:948.8px;top:480.7px">06</div>
<div class="no" id="N6" style="left:616.3px;top:486.8px">07</div>
<div class="no" id="N7" style="left:120.25px;top:468.4px">08</div>
<div class="no" id="N8" style="left:113.55px;top:676.9px">09</div>
<div class="no" id="N9" style="left:432.55px;top:676.1px">10</div>
<div class="no" id="N10" style="left:760.3px;top:666.1px">11</div>
<div class="no" id="N11" style="left:1091.95px;top:665.95px">12</div>
</div>
</body>
</html>
